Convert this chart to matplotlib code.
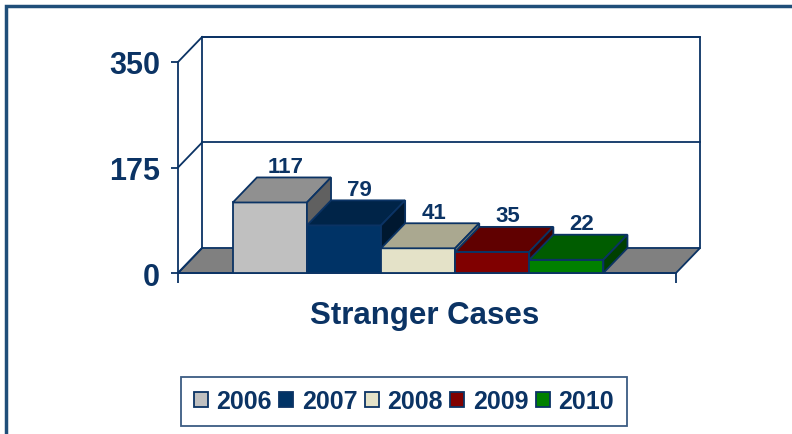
import matplotlib
matplotlib.use('Agg')
import matplotlib.pyplot as plt
from matplotlib.patches import Polygon, Rectangle, Patch

plt.rcParams['font.family'] = ['Liberation Sans', 'DejaVu Sans']

# data
years = ['2006', '2007', '2008', '2009', '2010']
cases = [117, 79, 41, 35, 22]
y_ticks = [0, 175, 350]
title = 'Stranger Cases'

# colours: front / top / side of each 3d column
front_colors = ['#C0C0C0', '#003366', '#E4E2C8', '#800000', '#008000']
top_colors = ['#909090', '#002448', '#AAA890', '#600000', '#005C00']
side_colors = ['#606060', '#001830', '#88866E', '#400000', '#004000']
navy = '#0B3364'
floor_color = '#808080'

W, H = 792, 435
fig = plt.figure(figsize=(W / 100, H / 100), dpi=100)
ax = fig.add_axes([178 / W, (H - 274) / H, (676 - 178) / W, (274 - 63) / H])

xl, xr = -1.24, 5.48
ax.set_xlim(xl, xr)
ax.set_ylim(0, 350)
dx, dy = 0.325, 41.5  # depth of the 3d box in data units
lw = 1.3

# floor
ax.add_patch(Polygon([(xl, 0), (xr, 0), (xr + dx, dy), (xl + dx, dy)],
                     closed=True, facecolor=floor_color, edgecolor=navy,
                     lw=lw, clip_on=False, zorder=1))

# back wall + side wall lines
ax.plot([xl + dx, xl + dx, xr + dx, xr + dx], [dy, 350 + dy, 350 + dy, dy],
        color=navy, lw=lw, clip_on=False, zorder=1)
for v in y_ticks:
    ax.plot([xl, xl + dx], [v, v + dy], color=navy, lw=lw, clip_on=False, zorder=1)
    if v > 0:
        ax.plot([xl + dx, xr + dx], [v + dy, v + dy], color=navy, lw=lw,
                clip_on=False, zorder=1)

# columns
x = list(range(len(years)))
bars = ax.bar(x, cases, width=1.0, color=front_colors, edgecolor=navy, lw=lw)
for i, (b, v) in enumerate(zip(bars, cases)):
    z = 3 + i
    b.set_zorder(z)
    l, r = x[i] - 0.5, x[i] + 0.5
    ax.add_patch(Polygon([(l, v), (r, v), (r + dx, v + dy), (l + dx, v + dy)],
                         closed=True, facecolor=top_colors[i], edgecolor=navy,
                         lw=lw, clip_on=False, zorder=z))
    ax.add_patch(Polygon([(r, 0), (r + dx, dy), (r + dx, v + dy), (r, v)],
                         closed=True, facecolor=side_colors[i], edgecolor=navy,
                         lw=lw, clip_on=False, zorder=z))
    ax.text(x[i] + dx * 0.65, v + dy + 1, str(v), ha='center', va='bottom',
            fontsize=16, fontweight='bold', color=navy, zorder=10)

# axes styling
for s in ['top', 'right']:
    ax.spines[s].set_visible(False)
for s in ['left', 'bottom']:
    ax.spines[s].set_color(navy)
    ax.spines[s].set_linewidth(lw)
    ax.spines[s].set_zorder(2)
ax.set_yticks(y_ticks)
ax.set_yticklabels([str(t) for t in y_ticks], fontweight='bold')
ax.tick_params(axis='y', length=5, width=lw, color=navy, pad=8,
               labelsize=22, labelcolor=navy)
ax.set_xticks([xl, xr])
ax.set_xticklabels(['', ''])
ax.tick_params(axis='x', length=7, width=lw, color=navy)
ax.patch.set_visible(False)

fig.text(425 / W, 1 - 316 / H, title, ha='center', va='center',
         fontsize=22.5, fontweight='bold', color=navy)

handles = [Patch(facecolor=c, edgecolor=navy, lw=lw) for c in front_colors]
leg = fig.legend(handles, years, loc='center', bbox_to_anchor=(404 / W, 1 - 402 / H),
                 ncol=5, frameon=True, fancybox=False, edgecolor=navy,
                 prop={'weight': 'bold', 'size': 18}, labelcolor=navy,
                 handlelength=0.55, handleheight=0.55, handletextpad=0.35,
                 columnspacing=0.3, borderpad=0.5, borderaxespad=0)
leg.get_frame().set_linewidth(lw)

# outer chart border
fig.add_artist(Rectangle((6 / W, -0.1), 1.2, 1 - 7 / H + 0.1, transform=fig.transFigure,
                         fill=False, edgecolor='#1F4E79', lw=2.5))

fig.savefig('out.png', dpi=100)
